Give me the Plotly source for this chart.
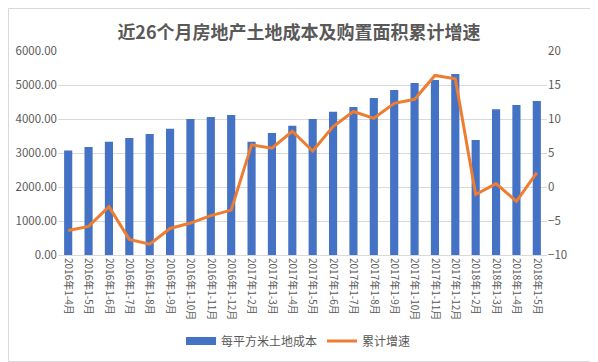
import plotly.graph_objects as go

categories = ["2016年1-4月", "2016年1-5月", "2016年1-6月", "2016年1-7月", "2016年1-8月", "2016年1-9月",
              "2016年1-10月", "2016年1-11月", "2016年1-12月",
              "2017年1-2月", "2017年1-3月", "2017年1-4月", "2017年1-5月", "2017年1-6月", "2017年1-7月",
              "2017年1-8月", "2017年1-9月", "2017年1-10月", "2017年1-11月", "2017年1-12月",
              "2018年1-2月", "2018年1-3月", "2018年1-4月", "2018年1-5月"]
land_cost = [3070, 3180, 3330, 3440, 3560, 3710, 4000, 4060, 4120,
             3330, 3590, 3800, 4000, 4210, 4350, 4620, 4850, 5060, 5150, 5320,
             3380, 4290, 4410, 4530]
growth = [-6.4, -5.8, -2.9, -7.7, -8.4, -6.1, -5.3, -4.2, -3.4,
          6.2, 5.7, 8.2, 5.3, 8.9, 11.1, 10.1, 12.3, 12.9, 16.4, 15.9,
          -1.1, 0.5, -2.1, 2.1]
left_ticks = [0, 1000, 2000, 3000, 4000, 5000, 6000]
right_ticks = [-10, -5, 0, 5, 10, 15, 20]

font_family = "Noto Sans CJK SC, Noto Sans, sans-serif"
gray = "#595959"
blue = "#4472C4"
orange = "#ED7D31"

fig = go.Figure()
fig.add_trace(go.Bar(x=categories, y=land_cost, name="每平方米土地成本", showlegend=False,
                     marker=dict(color=blue, line=dict(width=0)), yaxis="y"))
fig.add_trace(go.Scatter(x=categories, y=growth, name="累计增速", mode="lines", showlegend=False,
                         line=dict(color=orange, width=3), yaxis="y2"))
# legend entries (Excel-style wide swatches)
fig.add_trace(go.Scatter(x=[None], y=[None], name="每平方米土地成本", mode="lines",
                         line=dict(color=blue, width=8), yaxis="y"))
fig.add_trace(go.Scatter(x=[None], y=[None], name="累计增速", mode="lines",
                         line=dict(color=orange, width=3), yaxis="y2"))

# page body has an 8px margin, so the figure is sized to fill the rest of the window
W, H = 590, 354
ml, mr, mt, mb = 50, 51, 43, 107
pw, ph = W - ml - mr, H - mt - mb

fig.update_layout(
    width=W, height=H,
    margin=dict(l=ml, r=mr, t=mt, b=mb, pad=0, autoexpand=False),
    paper_bgcolor="white", plot_bgcolor="white",
    font=dict(family=font_family, color=gray, size=10),
    title=dict(text="<b>近26个月房地产土地成本及购置面积累计增速</b>", x=291 / W, xanchor="center",
               y=1 - 25 / H, yanchor="middle", font=dict(size=18, color=gray)),
    bargap=0.6,
    showlegend=True,
    legend=dict(orientation="h", x=(290.5 - ml) / pw, xanchor="center", y=(mt + ph - 333) / ph,
                yanchor="middle", font=dict(size=12, color=gray), itemwidth=30,
                bgcolor="rgba(0,0,0,0)"),
    xaxis=dict(type="category", tickangle=90, tickfont=dict(size=10, color=gray),
               showline=True, linecolor="#D9D9D9", linewidth=1, ticks="", showgrid=False,
               automargin=False),
    yaxis=dict(range=[0, 6000], tickvals=left_ticks, tickformat=".2f",
               showgrid=True, gridcolor="#D9D9D9", gridwidth=1, zeroline=False,
               tickfont=dict(size=11.5, color=gray), ticks="", showline=False, automargin=False),
    yaxis2=dict(range=[-10, 20], tickvals=right_ticks, overlaying="y", side="right",
                showgrid=False, zeroline=False, tickfont=dict(size=11.5, color=gray),
                ticks="", showline=False, automargin=False),
    shapes=[dict(type="rect", xref="paper", yref="paper",
                 x0=(0.5 - ml) / pw, x1=(W - 0.5 - ml) / pw,
                 y0=(mt + ph - (H - 0.5)) / ph, y1=(mt + ph - 0.5) / ph,
                 line=dict(color="#D9D9D9", width=1), fillcolor="rgba(0,0,0,0)", layer="above")],
)

fig.write_html("out.html")
